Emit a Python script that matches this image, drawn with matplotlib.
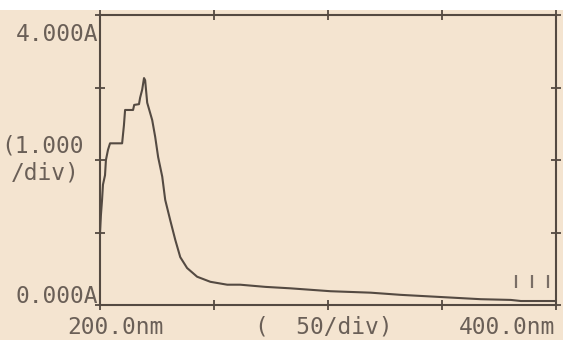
import matplotlib
matplotlib.use('Agg')
import matplotlib.pyplot as plt
from matplotlib.patches import Rectangle

# absorbance spectrum
wavelength = [200.0, 200.4, 200.9, 201.3, 202.2, 202.6, 203.5, 204.4, 209.7, 210.5,
              211.0, 214.5, 215.0, 217.1, 217.6, 218.5, 219.3, 219.8, 220.7, 222.9,
              224.2, 225.5, 227.3, 228.6, 230.8, 233.0, 235.2, 238.2, 242.6, 248.4,
              255.8, 261.5, 272.5, 283.5, 301.1, 318.7, 331.9, 349.5, 367.0, 380.2,
              384.6, 400.0]
absorb = [0.99, 1.24, 1.45, 1.66, 1.79, 2.00, 2.14, 2.23, 2.23, 2.48,
          2.69, 2.69, 2.76, 2.77, 2.86, 2.97, 3.13, 3.10, 2.79, 2.55,
          2.32, 2.04, 1.77, 1.45, 1.17, 0.90, 0.66, 0.51, 0.39, 0.32,
          0.28, 0.28, 0.25, 0.23, 0.19, 0.17, 0.14, 0.11, 0.08, 0.07,
          0.055, 0.055]

x_ticks = [200, 250, 300, 350, 400]
y_ticks = [0, 1, 2, 3, 4]
mark_x = [382.4, 389.5, 396.5]   # the three little "III" marks

bg = '#f4e4d0'
ink = '#544a42'
txt = '#6a5f57'

W, H = 563, 340
fig = plt.figure(figsize=(W / 100, H / 100), dpi=100, facecolor=bg)
fig.patches.append(Rectangle((0, 1 - 10 / H), 1, 10 / H, transform=fig.transFigure,
                             facecolor='white', edgecolor='none', zorder=0))

ax = fig.add_axes([100 / W, 1 - 305 / H, 456 / W, 290 / H])
ax.set_facecolor(bg)
ax.plot(wavelength, absorb, color=ink, lw=1.5)
ax.vlines(mark_x, 0.23, 0.41, color='#7a6e66', lw=1.6)

ax.set_xlim(200, 400)
ax.set_ylim(0, 4)
ax.set_xticks(x_ticks)
ax.set_yticks(y_ticks)
ax.tick_params(direction='inout', length=7, width=1.3, color=ink,
               top=True, right=True, labelbottom=False, labelleft=False)
for s in ax.spines.values():
    s.set_color(ink)
    s.set_linewidth(1.5)


def label(x, y, s, ha='left'):
    fig.text(x / W, 1 - y / H, s, ha=ha, va='baseline', color=txt,
             family='DejaVu Sans Mono', fontsize=16.5)


label(98, 41, '4.000A', ha='right')
label(84, 153, '(1.000', ha='right')
label(80, 180, '/div)', ha='right')
label(98, 303, '0.000A', ha='right')
label(67, 334, '200.0nm')
label(255, 334, '(  50/div)')
label(555, 334, '400.0nm', ha='right')

fig.savefig('out.png', dpi=100, facecolor=bg)
